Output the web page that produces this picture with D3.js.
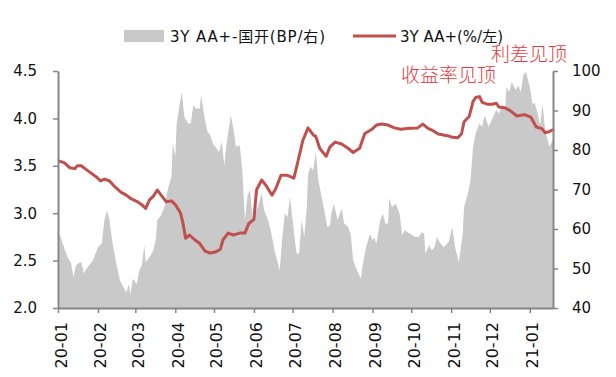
<!DOCTYPE html>
<html>
<head>
<meta charset="utf-8">
<script src="https://cdn.jsdelivr.net/npm/d3@7"></script>
<style>
  html, body { margin: 0; padding: 0; background: #fff; }
  svg { display: block; }
  text { font-family: "DejaVu Sans", "Noto Sans CJK SC", sans-serif; fill: #111; }
</style>
</head>
<body>
<svg id="chart" width="616" height="377"></svg>
<script>
// ---- Data ----
const yieldDates = ["2020-01-02","2020-01-06","2020-01-10","2020-01-14","2020-01-16","2020-01-19","2020-01-23","2020-01-27","2020-01-31","2020-02-03","2020-02-06","2020-02-10","2020-02-14","2020-02-19","2020-02-23","2020-02-27","2020-03-02","2020-03-06","2020-03-09","2020-03-12","2020-03-15","2020-03-18","2020-03-21","2020-03-25","2020-03-29","2020-04-01","2020-04-05","2020-04-07","2020-04-09","2020-04-12","2020-04-16","2020-04-20","2020-04-24","2020-04-28","2020-05-02","2020-05-06","2020-05-08","2020-05-12","2020-05-16","2020-05-21","2020-05-25","2020-05-28","2020-06-01","2020-06-03","2020-06-07","2020-06-11","2020-06-15","2020-06-18","2020-06-22","2020-06-27","2020-07-02","2020-07-05","2020-07-09","2020-07-13","2020-07-17","2020-07-19","2020-07-22","2020-07-27","2020-07-30","2020-08-03","2020-08-08","2020-08-13","2020-08-17","2020-08-22","2020-08-26","2020-08-31","2020-09-04","2020-09-08","2020-09-13","2020-09-18","2020-09-23","2020-09-30","2020-10-06","2020-10-10","2020-10-14","2020-10-18","2020-10-22","2020-10-26","2020-10-30","2020-11-02","2020-11-06","2020-11-09","2020-11-11","2020-11-15","2020-11-18","2020-11-20","2020-11-23","2020-11-25","2020-11-29","2020-12-03","2020-12-06","2020-12-08","2020-12-13","2020-12-17","2020-12-22","2020-12-28","2021-01-02","2021-01-06","2021-01-10","2021-01-13","2021-01-16","2021-01-19"];
const yieldValues = [3.55,3.53,3.48,3.47,3.50,3.50,3.46,3.42,3.38,3.34,3.36,3.34,3.28,3.22,3.19,3.15,3.125,3.09,3.05,3.14,3.18,3.245,3.19,3.12,3.13,3.09,3.005,2.89,2.735,2.77,2.72,2.68,2.60,2.58,2.59,2.62,2.72,2.79,2.77,2.79,2.79,2.89,2.935,3.245,3.35,3.28,3.19,3.26,3.40,3.40,3.37,3.54,3.77,3.90,3.825,3.81,3.685,3.60,3.70,3.75,3.73,3.685,3.64,3.685,3.84,3.88,3.93,3.94,3.93,3.90,3.885,3.895,3.90,3.94,3.895,3.87,3.835,3.825,3.815,3.80,3.795,3.835,3.965,4.02,4.18,4.22,4.23,4.17,4.15,4.15,4.16,4.12,4.11,4.08,4.025,4.04,4.01,3.91,3.895,3.85,3.86,3.88];

const spreadDates = ["2020-01-02","2020-01-04","2020-01-06","2020-01-09","2020-01-11","2020-01-13","2020-01-15","2020-01-18","2020-01-19","2020-01-21","2020-01-24","2020-01-28","2020-02-01","2020-02-04","2020-02-06","2020-02-08","2020-02-10","2020-02-12","2020-02-15","2020-02-18","2020-02-20","2020-02-23","2020-02-25","2020-02-26","2020-02-28","2020-03-02","2020-03-04","2020-03-06","2020-03-08","2020-03-09","2020-03-12","2020-03-15","2020-03-17","2020-03-18","2020-03-21","2020-03-24","2020-03-26","2020-03-29","2020-03-30","2020-04-01","2020-04-02","2020-04-04","2020-04-06","2020-04-08","2020-04-11","2020-04-13","2020-04-15","2020-04-17","2020-04-20","2020-04-21","2020-04-24","2020-04-26","2020-04-28","2020-04-30","2020-05-03","2020-05-05","2020-05-07","2020-05-09","2020-05-11","2020-05-14","2020-05-16","2020-05-18","2020-05-21","2020-05-23","2020-05-25","2020-05-27","2020-05-29","2020-05-31","2020-06-02","2020-06-04","2020-06-07","2020-06-09","2020-06-12","2020-06-14","2020-06-17","2020-06-21","2020-06-23","2020-06-25","2020-06-27","2020-06-29","2020-07-01","2020-07-04","2020-07-06","2020-07-08","2020-07-10","2020-07-12","2020-07-13","2020-07-15","2020-07-17","2020-07-19","2020-07-21","2020-07-23","2020-07-26","2020-07-28","2020-07-30","2020-07-31","2020-08-02","2020-08-05","2020-08-08","2020-08-10","2020-08-13","2020-08-15","2020-08-17","2020-08-20","2020-08-23","2020-08-24","2020-08-27","2020-08-30","2020-09-01","2020-09-02","2020-09-04","2020-09-07","2020-09-09","2020-09-11","2020-09-13","2020-09-14","2020-09-16","2020-09-19","2020-09-22","2020-09-24","2020-09-26","2020-09-30","2020-10-04","2020-10-07","2020-10-09","2020-10-11","2020-10-12","2020-10-15","2020-10-17","2020-10-19","2020-10-21","2020-10-23","2020-10-26","2020-10-30","2020-11-02","2020-11-04","2020-11-06","2020-11-07","2020-11-10","2020-11-11","2020-11-14","2020-11-16","2020-11-18","2020-11-20","2020-11-23","2020-11-25","2020-11-27","2020-11-30","2020-12-03","2020-12-06","2020-12-08","2020-12-11","2020-12-13","2020-12-14","2020-12-16","2020-12-18","2020-12-21","2020-12-23","2020-12-25","2020-12-27","2020-12-29","2021-01-01","2021-01-03","2021-01-05","2021-01-07","2021-01-09","2021-01-11","2021-01-13","2021-01-15","2021-01-16","2021-01-19"];
const spreadValues = [58.8,57.1,55.0,52.5,51.6,47.8,50.8,51.6,51.6,48.8,50.3,52.0,55.4,56.3,62.2,64.7,62.2,57.1,51.6,47.0,45.7,44.0,46.1,43.2,47.4,46.1,49.5,50.8,55.9,51.6,52.9,54.6,57.6,62.2,63.5,66.0,69.8,73.2,81.7,78.3,86.5,90.9,94.7,88.4,86.7,86.7,91.4,90.5,90.5,93.9,87.6,84.6,83.8,81.7,80.4,79.5,82.1,76.2,82.1,88.8,85.5,80.8,81.2,74.9,62.2,68.5,69.8,62.2,63.9,65.6,69.0,64.7,62.2,59.7,54.6,49.5,58.0,63.9,63.0,68.1,62.2,53.8,53.8,62.2,58.0,65.6,74.0,75.7,74.9,79.5,72.3,69.0,63.9,60.5,60.9,63.9,66.4,62.2,65.2,61.4,60.5,58.8,52.0,49.5,47.4,50.3,55.4,58.8,57.1,58.0,56.3,62.2,63.9,61.4,61.4,67.7,65.6,66.4,63.9,58.4,59.7,58.8,58.0,58.0,59.2,58.8,53.8,55.9,54.6,55.4,58.0,56.7,55.4,56.7,60.5,55.4,52.9,51.6,58.8,65.6,69.0,72.3,80.8,84.2,86.7,85.9,88.8,85.9,88.0,90.1,89.3,91.4,91.0,96.0,94.7,97.3,95.2,96.4,94.7,99.0,99.8,96.0,91.8,91.8,89.3,86.3,91.4,84.6,82.5,80.8,82.5];

const leftTicks = [2.0, 2.5, 3.0, 3.5, 4.0, 4.5];
const rightTicks = [40, 50, 60, 70, 80, 90, 100];
const monthTicks = ["2020-01-01","2020-02-01","2020-03-01","2020-04-01","2020-05-01","2020-06-01","2020-07-01","2020-08-01","2020-09-01","2020-10-01","2020-11-01","2020-12-01","2021-01-01"];
const seriesNames = ["3Y AA+-国开(BP/右)", "3Y AA+(%/左)"];
const annotations = ["利差见顶", "收益率见顶"];

// ---- Chart ----
(function () {
  const parse = d3.timeParse("%Y-%m-%d");
  const svg = d3.select("#chart");
  const pLeft = 58, pRight = 553, pTop = 71, pBottom = 308;

  const x = d3.scaleTime().domain([parse("2020-01-01"), parse("2021-01-19")]).range([pLeft, pRight]);
  const yL = d3.scaleLinear().domain([2.0, 4.5]).range([pBottom, pTop]);
  const yR = d3.scaleLinear().domain([40, 100]).range([pBottom, pTop]);

  const spread = spreadDates.map((d, i) => ({ date: parse(d), v: spreadValues[i] }));
  const yld = yieldDates.map((d, i) => ({ date: parse(d), v: yieldValues[i] }));

  const areaGen = d3.area().x(d => x(d.date)).y0(yR(40)).y1(d => yR(d.v));
  svg.append("path").datum(spread).attr("d", areaGen).attr("fill", "#c9c9c9");

  const lineGen = d3.line().x(d => x(d.date)).y(d => yL(d.v));
  svg.append("path").datum(yld).attr("d", lineGen)
    .attr("fill", "none").attr("stroke", "#c0504d").attr("stroke-width", 3)
    .attr("stroke-linejoin", "round").attr("stroke-linecap", "round");

  function styleAxis(g) {
    g.selectAll(".domain").attr("stroke", "#868686").attr("stroke-width", 2);
    g.selectAll(".tick line").attr("stroke", "#868686").attr("stroke-width", 1.5);
    g.selectAll("text").attr("font-family", "\"DejaVu Sans\", sans-serif").attr("fill", "#111");
  }

  const gL = svg.append("g").attr("transform", `translate(${pLeft},0)`)
    .call(d3.axisLeft(yL).tickValues(leftTicks).tickFormat(d3.format(".1f")).tickSize(5).tickSizeOuter(0).tickPadding(16));
  styleAxis(gL);
  gL.selectAll("text").attr("font-size", 15);

  const gR = svg.append("g").attr("transform", `translate(${pRight},0)`)
    .call(d3.axisRight(yR).tickValues(rightTicks).tickFormat(d3.format("d")).tickSize(5).tickSizeOuter(0).tickPadding(14));
  styleAxis(gR);
  gR.selectAll("text").attr("font-size", 15);

  const gB = svg.append("g").attr("transform", `translate(0,${pBottom})`)
    .call(d3.axisBottom(x).tickValues(monthTicks.map(parse)).tickFormat(d3.timeFormat("%y-%m")).tickSize(5).tickSizeOuter(0));
  styleAxis(gB);
  gB.selectAll("text").attr("font-size", 16)
    .attr("transform", "rotate(-90)").attr("text-anchor", "end")
    .attr("x", -14).attr("y", 8).attr("dy", null);

  // Legend
  const lg = svg.append("g");
  lg.append("rect").attr("x", 124).attr("y", 30).attr("width", 40).attr("height", 12).attr("fill", "#c9c9c9");
  lg.append("text").attr("x", 170).attr("y", 41.5).attr("font-size", 15)
    .attr("textLength", 155).attr("lengthAdjust", "spacing").text(seriesNames[0]);
  lg.append("line").attr("x1", 353).attr("x2", 396).attr("y1", 36).attr("y2", 36)
    .attr("stroke", "#c0504d").attr("stroke-width", 3);
  lg.append("text").attr("x", 400).attr("y", 41.5).attr("font-size", 15).text(seriesNames[1]);

  // Annotations
  svg.append("text").attr("x", 491).attr("y", 61).attr("font-size", 19).attr("font-weight", 300)
    .attr("font-family", "\"Noto Sans CJK SC\", sans-serif").style("fill", "#e5393b").text(annotations[0]);
  svg.append("text").attr("x", 401).attr("y", 82).attr("font-size", 19).attr("font-weight", 300)
    .attr("font-family", "\"Noto Sans CJK SC\", sans-serif").style("fill", "#e5393b").text(annotations[1]);
})();
</script>
</body>
</html>
